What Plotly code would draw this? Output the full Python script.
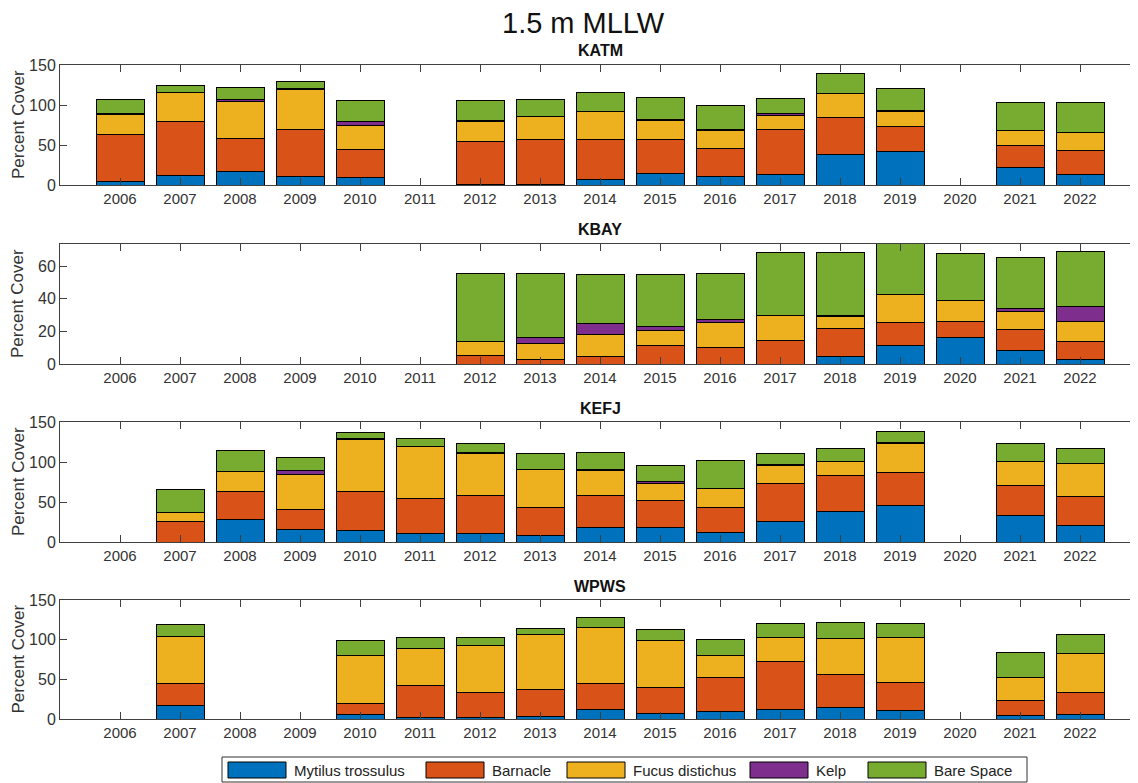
import plotly.graph_objects as go

years = list(range(2006, 2023))
species = ["Mytilus trossulus", "Barnacle", "Fucus distichus", "Kelp", "Bare Space"]
colors = ["#0072BD", "#D95319", "#EDB120", "#7E2F8E", "#77AC30"]
sites = ["KATM", "KBAY", "KEFJ", "WPWS"]

N = None
katm_mytilus = [4, 12, 17, 11, 10, N, 1, 1, 7, 15, 11, 13, 38, 42, N, 22, 13]
katm_barnacle = [59, 68, 41, 58, 35, N, 54, 56, 50, 42, 35, 57, 46, 31, N, 27, 30]
katm_fucus = [25, 36, 46, 51, 30, N, 25, 29, 35, 24, 22, 17, 31, 19, N, 19, 23]
katm_kelp = [2, 0, 3, 1, 5, N, 1, 0, 0, 1, 1, 2, 0, 1, N, 0, 0]
katm_bare = [17, 8, 15, 9, 26, N, 25, 21, 24, 27, 31, 19, 25, 28, N, 35, 37]

kbay_mytilus = [N, N, N, N, N, N, 0, 0, 0, 0, 0, 0, 4.5, 11.2, 16.5, 8.2, 2.7]
kbay_barnacle = [N, N, N, N, N, N, 5.5, 3, 4.5, 11.2, 10.4, 14.3, 17.3, 14.3, 9.8, 13, 10.8]
kbay_fucus = [N, N, N, N, N, N, 8, 9.7, 13.5, 9.6, 15, 15.5, 7.2, 17.2, 12.7, 11, 12.5]
kbay_kelp = [N, N, N, N, N, N, 0, 3.8, 6.7, 2.2, 2, 0, 0.8, 0, 0, 1.8, 9.3]
kbay_bare = [N, N, N, N, N, N, 42, 39, 30.3, 32, 28, 38.6, 38.6, 36, 28.6, 31.3, 33.7]

kefj_mytilus = [N, 0, 27.6, 15.5, 13.8, 10.5, 10.5, 8, 18.4, 18, 12.1, 25.6, 38.1, 46.1, N, 33.5, 20.1]
kefj_barnacle = [N, 25.5, 35.7, 24.7, 49.5, 43.5, 48.2, 35.2, 39.8, 34.4, 30.6, 47.7, 44.9, 40.2, N, 37.3, 36.5]
kefj_fucus = [N, 11.4, 24.7, 44.4, 64.5, 65.8, 51.9, 47.3, 31.4, 20.9, 24.7, 21.8, 17.1, 36.4, N, 29.3, 41.8]
kefj_kelp = [N, 0, 0, 4.2, 1, 0, 0.8, 0, 1.4, 2.1, 0, 1.7, 0, 1.7, N, 0, 0]
kefj_bare = [N, 29, 26, 17.2, 8.6, 9.7, 12.2, 20.5, 20.9, 20.1, 34, 14.2, 16.8, 13.8, N, 23.1, 18.5]

wpws_mytilus = [N, 16.8, N, N, 5.9, 1.3, 1.3, 3.4, 12.6, 7.5, 9.2, 12.6, 14.2, 10.5, N, 5, 5.9]
wpws_barnacle = [N, 27.6, N, N, 13.8, 41.4, 32.6, 33.5, 31.8, 32.7, 43.2, 59.9, 42.4, 36, N, 18, 28]
wpws_fucus = [N, 59.5, N, N, 60.3, 46.1, 58.3, 69.1, 70.8, 58.2, 27.6, 30.6, 44.8, 56.6, N, 29.4, 49]
wpws_kelp = [N, 0, N, N, 0, 0, 0, 0, 0, 0, 0, 0, 0, 0, N, 0, 0]
wpws_bare = [N, 14.7, N, N, 18.4, 14.2, 10.8, 8, 12.6, 13.9, 20.1, 17.1, 20.1, 17.1, N, 31, 23.5]

site_data = {
    "KATM": [katm_mytilus, katm_barnacle, katm_fucus, katm_kelp, katm_bare],
    "KBAY": [kbay_mytilus, kbay_barnacle, kbay_fucus, kbay_kelp, kbay_bare],
    "KEFJ": [kefj_mytilus, kefj_barnacle, kefj_fucus, kefj_kelp, kefj_bare],
    "WPWS": [wpws_mytilus, wpws_barnacle, wpws_fucus, wpws_kelp, wpws_bare],
}
y_ranges = {"KATM": [0, 150], "KBAY": [0, 73.5], "KEFJ": [0, 150], "WPWS": [0, 150]}
y_ticks = {"KATM": [0, 50, 100, 150], "KBAY": [0, 20, 40, 60],
           "KEFJ": [0, 50, 100, 150], "WPWS": [0, 50, 100, 150]}

# page layout in window pixels; the page body adds an 8px offset
W, H = 1138, 783
OFF = 8
ML, MR = 60 - OFF, 6
PW = W - ML - MR
panel_px = [(65, 185), (244, 364), (422, 542), (600, 719)]
title_px = [51, 230, 408, 586]

def px_x(px):
    return (px - OFF - ML) / PW

def px_y(py):
    return 1 - (py - OFF) / H

FONT = "Liberation Sans, Arial, sans-serif"
AX = "#404040"

fig = go.Figure()
layout = dict(
    width=W, height=H, autosize=False, barmode="stack", showlegend=False,
    margin=dict(l=ML, r=MR, t=0, b=0, pad=0, autoexpand=False),
    paper_bgcolor="white", plot_bgcolor="white",
    font=dict(family=FONT, size=15, color="#333333"),
    bargap=0.2,
)
annotations = []
shapes = []

for i, site in enumerate(sites):
    n = i + 1
    xa = "x" if n == 1 else f"x{n}"
    ya = "y" if n == 1 else f"y{n}"
    for s, name in enumerate(species):
        fig.add_trace(go.Bar(
            x=years, y=site_data[site][s], name=name,
            marker=dict(color=colors[s], line=dict(color="black", width=1)),
            width=0.8, xaxis=xa, yaxis=ya, showlegend=False,
        ))
    top, bot = panel_px[i]
    layout[f"xaxis{n if n > 1 else ''}"] = dict(
        domain=[0, 1], anchor=ya, range=[2005, 2023], automargin=False,
        tickvals=years, ticktext=[str(y) for y in years],
        ticks="inside", ticklen=7, tickcolor=AX, showline=True, linecolor=AX,
        linewidth=1, mirror="allticks", showgrid=False, zeroline=False,
        tickfont=dict(size=15, color="#333333"),
    )
    layout[f"yaxis{n if n > 1 else ''}"] = dict(
        domain=[px_y(bot), px_y(top)], anchor=xa, range=y_ranges[site],
        automargin=False,
        tickvals=y_ticks[site], ticks="inside", ticklen=7, tickcolor=AX,
        showline=True, linecolor=AX, linewidth=1, mirror="allticks",
        showgrid=False, zeroline=False, tickfont=dict(size=16, color="#333333"),
    )
    annotations.append(dict(
        text=f"<b>{site}</b>", xref="paper", yref="paper",
        x=px_x(600), y=px_y(title_px[i]), xanchor="center", yanchor="middle",
        showarrow=False, font=dict(size=16, color="#111111", family=FONT),
    ))
    annotations.append(dict(
        text="Percent Cover", xref="paper", yref="paper",
        x=px_x(18), y=px_y((top + bot) / 2), xanchor="center", yanchor="middle",
        textangle=-90, showarrow=False, font=dict(size=17, color="#333333", family=FONT),
    ))

annotations.append(dict(
    text="1.5 m MLLW", xref="paper", yref="paper",
    x=px_x(583), y=px_y(23), xanchor="center", yanchor="middle",
    showarrow=False, font=dict(size=29, color="#111111", family=FONT),
))

# custom legend (MATLAB style wide swatches)
shapes.append(dict(type="rect", xref="paper", yref="paper",
                   x0=px_x(222), x1=px_x(1027), y0=px_y(782), y1=px_y(757),
                   line=dict(color="#333333", width=1), fillcolor="white"))
swatch_left = [228, 426, 567, 750, 868]
for s, name in enumerate(species):
    x0 = swatch_left[s]
    shapes.append(dict(type="rect", xref="paper", yref="paper",
                       x0=px_x(x0), x1=px_x(x0 + 58), y0=px_y(778), y1=px_y(762),
                       line=dict(color="black", width=1), fillcolor=colors[s]))
    annotations.append(dict(
        text=name, xref="paper", yref="paper", x=px_x(x0 + 64), y=px_y(770),
        xanchor="left", yanchor="middle", showarrow=False,
        font=dict(size=15, color="#222222", family=FONT),
    ))

layout["annotations"] = annotations
layout["shapes"] = shapes
fig.update_layout(**layout)
fig.write_html("out.html")
